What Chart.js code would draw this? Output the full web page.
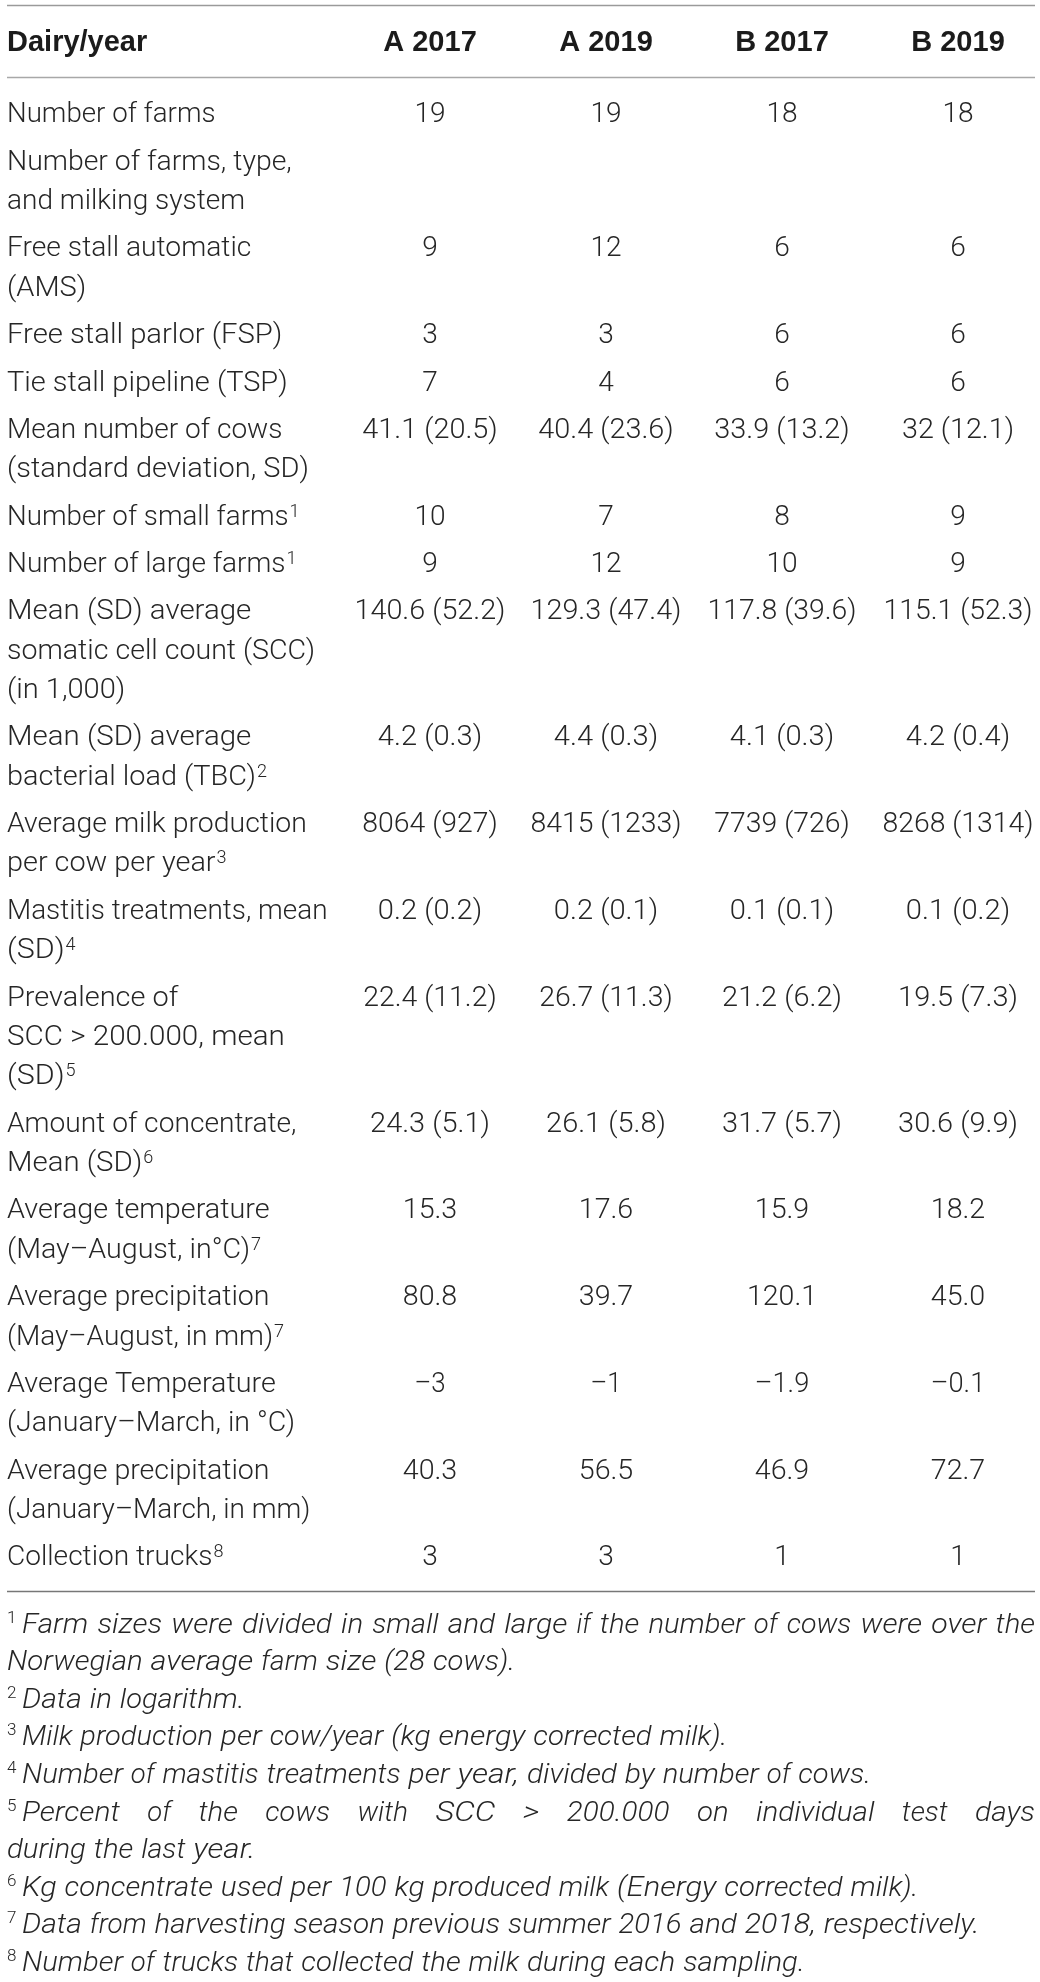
<!DOCTYPE html>
<html>
<head>
<meta charset="utf-8">
<script src="https://cdn.jsdelivr.net/npm/chart.js@4.4.1/dist/chart.umd.min.js"></script>
<style>
  html, body { margin: 0; padding: 0; background: #ffffff; }
  canvas { display: block; }
</style>
</head>
<body>
<canvas id="table" width="1040" height="1982" style="width:1040px;height:1982px"></canvas>
<script>
// ---------------- data ----------------
const headerLabel = "Dairy/year";
const columns = ["A 2017", "A 2019", "B 2017", "B 2019"];

const rowLabels = [
  ["Number of farms"],
  ["Number of farms, type,", "and milking system"],
  ["Free stall automatic", "(AMS)"],
  ["Free stall parlor (FSP)"],
  ["Tie stall pipeline (TSP)"],
  ["Mean number of cows", "(standard deviation, SD)"],
  ["Number of small farms^1"],
  ["Number of large farms^1"],
  ["Mean (SD) average", "somatic cell count (SCC)", "(in 1,000)"],
  ["Mean (SD) average", "bacterial load (TBC)^2"],
  ["Average milk production", "per cow per year^3"],
  ["Mastitis treatments, mean", "(SD)^4"],
  ["Prevalence of", "SCC > 200.000, mean", "(SD)^5"],
  ["Amount of concentrate,", "Mean (SD)^6"],
  ["Average temperature", "(May–August, in°C)^7"],
  ["Average precipitation", "(May–August, in mm)^7"],
  ["Average Temperature", "(January–March, in °C)"],
  ["Average precipitation", "(January–March, in mm)"],
  ["Collection trucks^8"]
];

const valuesA2017 = ["19", "", "9", "3", "7", "41.1 (20.5)", "10", "9", "140.6 (52.2)", "4.2 (0.3)", "8064 (927)", "0.2 (0.2)", "22.4 (11.2)", "24.3 (5.1)", "15.3", "80.8", "–3", "40.3", "3"];
const valuesA2019 = ["19", "", "12", "3", "4", "40.4 (23.6)", "7", "12", "129.3 (47.4)", "4.4 (0.3)", "8415 (1233)", "0.2 (0.1)", "26.7 (11.3)", "26.1 (5.8)", "17.6", "39.7", "–1", "56.5", "3"];
const valuesB2017 = ["18", "", "6", "6", "6", "33.9 (13.2)", "8", "10", "117.8 (39.6)", "4.1 (0.3)", "7739 (726)", "0.1 (0.1)", "21.2 (6.2)", "31.7 (5.7)", "15.9", "120.1", "–1.9", "46.9", "1"];
const valuesB2019 = ["18", "", "6", "6", "6", "32 (12.1)", "9", "9", "115.1 (52.3)", "4.2 (0.4)", "8268 (1314)", "0.1 (0.2)", "19.5 (7.3)", "30.6 (9.9)", "18.2", "45.0", "–0.1", "72.7", "1"];

const footnotes = [
  { mark: "1", lines: ["Farm sizes were divided in small and large if the number of cows were over the", "Norwegian average farm size (28 cows)."] },
  { mark: "2", lines: ["Data in logarithm."] },
  { mark: "3", lines: ["Milk production per cow/year (kg energy corrected milk)."] },
  { mark: "4", lines: ["Number of mastitis treatments per year, divided by number of cows."] },
  { mark: "5", lines: ["Percent of the cows with SCC > 200.000 on individual test days", "during the last year."] },
  { mark: "6", lines: ["Kg concentrate used per 100 kg produced milk (Energy corrected milk)."] },
  { mark: "7", lines: ["Data from harvesting season previous summer 2016 and 2018, respectively."] },
  { mark: "8", lines: ["Number of trucks that collected the milk during each sampling."] }
];

// ---------------- layout (row units) ----------------
const ROW_GAP = 0.2;
const rowTop = [];
let acc = 0;
rowLabels.forEach(lines => { rowTop.push(acc); acc += lines.length + ROW_GAP; });
const BODY_END = acc;
const Y_TOP_RULE = -2.13;
const Y_HEADER = -1.23;
const Y_HEADER_RULE = -0.315;
const Y_BOTTOM_RULE = BODY_END + 0.3;

const lineY = (r, k) => rowTop[r] + ROW_GAP / 2 + k + 0.5;

// ---------------- styles ----------------
const TEXT = "#262626";
const HEAD = "#1b1b1b";
const BODY_SIZE = 28;
// drawn with a light face, spaced with Helvetica-compatible metrics
const BODY = { draw: "300 28px Roboto, 'Liberation Sans', sans-serif", metric: "28px 'Liberation Sans', Arial, sans-serif" };
const SUP = { draw: "300 18px Roboto, 'Liberation Sans', sans-serif", metric: "18px 'Liberation Sans', Arial, sans-serif" };
const NOTE = { draw: "italic 300 28.4px Roboto, 'Liberation Sans', sans-serif", metric: "italic 28.4px 'Liberation Sans', Arial, sans-serif" };
const NOTE_SUP = { draw: "300 17px Roboto, 'Liberation Sans', sans-serif", metric: "17px 'Liberation Sans', Arial, sans-serif" };
const HEAD_FONT = "bold 29px 'Liberation Sans', Arial, sans-serif";

function widthOf(ctx, text, f) { ctx.font = f.metric; return ctx.measureText(text).width; }

function fitText(ctx, text, x, y, f, targetW) {
  const w = targetW != null ? targetW : widthOf(ctx, text, f);
  ctx.font = f.draw;
  const w0 = ctx.measureText(text).width || 1;
  ctx.save();
  ctx.translate(x, y);
  ctx.scale(w / w0, 1);
  ctx.textAlign = "left";
  ctx.fillText(text, 0, 0);
  ctx.restore();
  return w;
}

function drawRich(ctx, text, x, baseline) {
  const parts = text.split(/\^(\d+)/);
  let cx = x;
  parts.forEach((p, i) => {
    if (!p) return;
    if (i % 2 === 1) cx += fitText(ctx, p, cx + 1, baseline - 8, SUP) + 1;
    else cx += fitText(ctx, p, cx, baseline, BODY);
  });
}

function drawJustified(ctx, text, x, right, baseline, justify) {
  const words = text.split(" ");
  const widths = words.map(w => widthOf(ctx, w, NOTE));
  const natural = widths.reduce((a, b) => a + b, 0);
  let space = widthOf(ctx, " ", NOTE);
  if (justify && words.length > 1) space = (right - x - natural) / (words.length - 1);
  let cx = x;
  words.forEach((w, i) => { fitText(ctx, w, cx, baseline, NOTE, widths[i]); cx += widths[i] + space; });
}

const tablePlugin = {
  id: "tablePlugin",
  afterDatasetsDraw(chart) {
    const ctx = chart.ctx;
    const xs = chart.scales.x, ys = chart.scales.y;
    const left = chart.chartArea.left, right = chart.chartArea.right;
    const base = v => ys.getPixelForValue(v) + BODY_SIZE * 0.35;
    ctx.save();
    ctx.textBaseline = "alphabetic";

    // rules
    const rule = (v, color) => {
      const y = Math.round(ys.getPixelForValue(v)) + 0.5;
      ctx.strokeStyle = color; ctx.lineWidth = 1.6;
      ctx.beginPath(); ctx.moveTo(left, y); ctx.lineTo(right, y); ctx.stroke();
    };
    rule(Y_TOP_RULE, "#9a9a9a");
    rule(Y_HEADER_RULE, "#a8a8a8");
    rule(Y_BOTTOM_RULE, "#777777");

    // header
    ctx.fillStyle = HEAD;
    ctx.font = HEAD_FONT;
    ctx.textAlign = "left";
    ctx.fillText(headerLabel, left, ys.getPixelForValue(Y_HEADER) + 10.5);
    ctx.textAlign = "center";
    chart.data.datasets.forEach((ds, i) => {
      ctx.fillText(ds.label, xs.getPixelForValue(i + 1), ys.getPixelForValue(Y_HEADER) + 10.5);
    });

    // row labels
    ctx.fillStyle = TEXT;
    rowLabels.forEach((lines, r) => {
      lines.forEach((t, k) => drawRich(ctx, t, left, base(lineY(r, k))));
    });

    // values, placed at the dataset elements
    chart.data.datasets.forEach((ds, i) => {
      const meta = chart.getDatasetMeta(i);
      meta.data.forEach((el, j) => {
        const t = ds.cellText[j];
        if (!t) return;
        const w = widthOf(ctx, t, BODY);
        fitText(ctx, t, el.x - w / 2, el.y + BODY_SIZE * 0.35, BODY, w);
      });
    });

    // footnotes
    const bottomRuleY = ys.getPixelForValue(Y_BOTTOM_RULE);
    let n = 0;
    footnotes.forEach(fn => {
      fn.lines.forEach((t, k) => {
        const baseline = bottomRuleY + 32 + n * 37.55 + 9.8;
        let x = left;
        if (k === 0) {
          fitText(ctx, fn.mark, left, baseline - 10, NOTE_SUP);
          x = left + 15;
        }
        drawJustified(ctx, t, x, right, baseline, k < fn.lines.length - 1);
        n++;
      });
    });
    ctx.restore();
  }
};

const columnValues = [valuesA2017, valuesA2019, valuesB2017, valuesB2019];

function build() {
  new Chart(document.getElementById("table"), {
    type: "scatter",
    data: {
      datasets: columns.map((c, ci) => ({
        label: c,
        cellText: columnValues[ci],
        data: columnValues[ci].map((v, r) => ({ x: ci + 1, y: lineY(r, 0) })),
        pointRadius: 0,
        pointHoverRadius: 0,
        showLine: false
      }))
    },
    options: {
      responsive: false,
      animation: false,
      devicePixelRatio: 1,
      layout: { padding: { left: 7, right: 5, top: 5, bottom: 391 } },
      plugins: { legend: { display: false }, tooltip: { enabled: false } },
      events: [],
      scales: {
        x: { type: "linear", display: false, min: 1 - 423 / 176, max: 4 + 77 / 176 },
        y: { type: "linear", display: false, reverse: true, min: Y_TOP_RULE, max: Y_BOTTOM_RULE }
      }
    },
    plugins: [tablePlugin]
  });
}

const fontLoads = [
  "300 28px Roboto", "italic 300 28px Roboto", "28px 'Liberation Sans'",
  "italic 28px 'Liberation Sans'", "bold 29px 'Liberation Sans'"
].map(f => document.fonts.load(f).catch(() => null));
Promise.all(fontLoads).then(build, build);
</script>
</body>
</html>
